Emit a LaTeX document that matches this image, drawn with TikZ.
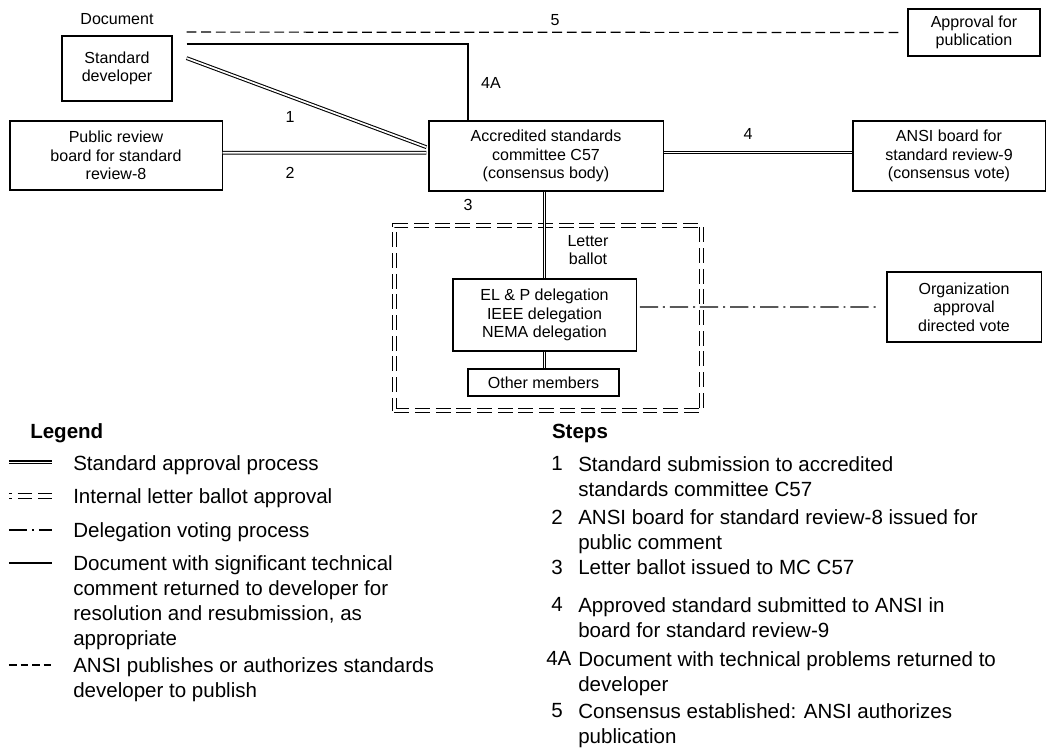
\documentclass[tikz,border=0pt]{standalone}
\usepackage{fontspec}
\setmainfont{Liberation Sans}
\usetikzlibrary{positioning}

\newcommand{\boxfont}{\fontsize{11.4}{13.2}\selectfont}
\newcommand{\legendfont}{\fontsize{14.6}{17.7}\selectfont}

\begin{document}
\begin{tikzpicture}[
    x=0.025cm, y=-0.025cm,
    box/.style={rectangle, draw, line width=0.75pt, align=center, font=\boxfont},
    approval/.style={double, line width=0.75pt, double distance=1.2pt},
    ballot/.style={draw, double, line width=0.7pt, double distance=2.4pt, dash pattern=on 10.5pt off 4.2pt},
    voting/.style={line width=0.85pt, dash pattern=on 13pt off 3.5pt on 1.4pt off 3.5pt},
    returned/.style={line width=0.85pt},
    publish/.style={line width=0.85pt, dash pattern=on 7pt off 3.4pt},
    tag/.style={font=\boxfont},
    legtext/.style={font=\legendfont, align=left, anchor=north west, inner sep=0pt},
    head/.style={font=\legendfont\bfseries, inner sep=0pt}
]
\useasboundingbox (0,0) rectangle (1048,753);

% Letter ballot frame
\node[ballot, inner sep=0pt, minimum width=7.675cm, minimum height=4.625cm] (frame) at (548,318) {};

% Boxes
\node[tag] (doclabel) at (117,19) {Document};
\node[box, minimum width=2.75cm, minimum height=1.625cm] (dev) at (117,68.5) {Standard\\developer};
\node[box, minimum width=5.3cm, minimum height=1.725cm] (review) at (116,155.5) {Public review\\board for standard\\review-8};
\node[box, minimum width=5.85cm, minimum height=1.75cm] (asc) at (546,156) {Accredited standards\\committee C57\\(consensus body)};
\node[box, minimum width=4.8cm, minimum height=1.75cm] (ansi) at (949,156) {ANSI board for\\standard review-9\\(consensus vote)};
\node[box, minimum width=3.3cm, minimum height=1.175cm] (pub) at (974,32.5) {Approval for\\publication};
\node[box, minimum width=4.575cm, minimum height=1.8cm] (deleg) at (544.5,315) {EL \& P delegation\\IEEE delegation\\NEMA delegation};
\node[box, minimum width=3.775cm, minimum height=0.675cm] (other) at (543.5,382.5) {Other members};
\node[box, minimum width=3.85cm, minimum height=1.75cm] (org) at (964,307) {Organization\\approval\\directed vote};
\node[tag, align=center] (letter) at (588,250) {Letter\\ballot};

% Connections
\draw[approval] ([xshift=0.35cm,yshift=0.26cm]dev.east) -- ([xshift=-0.05cm,yshift=0.22cm]asc.west);
\draw[approval] ([yshift=0.07cm]review.east) -- ([xshift=-0.05cm,yshift=0.08cm]asc.west);
\draw[approval] ([yshift=0.085cm]asc.east) -- ([yshift=0.085cm]ansi.west);
\draw[approval] (asc.south -| deleg.north) -- (deleg.north);
\draw[approval] (deleg.south) -- (deleg.south |- other.north);
\draw[returned] ([xshift=0.35cm,yshift=0.61cm]dev.east) -| ([xshift=-1.95cm]asc.north);
\draw[publish] ([xshift=0.35cm,yshift=0.91cm]dev.east) -- ([xshift=-0.2cm]pub.west);
\draw[voting] ([xshift=0.08cm,yshift=0.2cm]deleg.east) -- ([xshift=-0.22cm]org.west);

% Step numbers on the diagram
\node[tag] (n1) at (290,117) {1};
\node[tag] (n2) at (290,173) {2};
\node[tag] (n3) at (468,205) {3};
\node[tag] (n4) at (748,134) {4};
\node[tag] (n4a) at (491,83) {4A};
\node[tag] (n5) at (555,20) {5};

% Legend
\node[head, anchor=west] (legend) at (30,433) {Legend};
\node[legtext] (lg1) at (73,455.4) {Standard approval process};
\node[legtext] (lg2) at (73,488.4) {Internal letter ballot approval};
\node[legtext] (lg3) at (73,522.4) {Delegation voting process};
\node[legtext] (lg4) at (73,555.4) {Document with significant technical\\comment returned to developer for\\resolution and resubmission, as\\appropriate};
\node[legtext] (lg5) at (73,657.4) {ANSI publishes or authorizes standards\\developer to publish};

\draw[approval] ([xshift=-1.6cm,yshift=-0.175cm]lg1.north west) -- ++(1.075cm,0);
\draw[ballot, dash phase=8.5pt] ([xshift=-1.6cm,yshift=-0.19cm]lg2.north west) -- ++(1.075cm,0);
\draw[voting] ([xshift=-1.6cm,yshift=-0.19cm]lg3.north west) -- ++(1.075cm,0);
\draw[returned] ([xshift=-1.6cm,yshift=-0.19cm]lg4.north west) -- ++(1.075cm,0);
\draw[publish, dash pattern=on 5.6pt off 2.6pt] ([xshift=-1.6cm,yshift=-0.19cm]lg5.north west) -- ++(1.075cm,0);

% Steps
\node[head] (steps) at (580,433) {Steps};
\node[legtext] (s1) at (551,456.4) {1};
\node[legtext] (t1) at (578,456.4) {Standard submission to accredited\\standards committee C57};
\node[legtext] (s2) at (551,509.4) {2};
\node[legtext] (t2) at (578,509.4) {ANSI board for standard review-8 issued for\\public comment};
\node[legtext] (s3) at (551,559.4) {3};
\node[legtext] (t3) at (578,559.4) {Letter ballot issued to MC C57};
\node[legtext] (s4) at (551,597.4) {4};
\node[legtext] (t4) at (578,597.4) {Approved standard submitted to ANSI in\\board for standard review-9};
\node[legtext] (s4a) at (546,651.4) {4A};
\node[legtext] (t4a) at (578,651.4) {Document with technical problems returned to\\developer};
\node[legtext] (s5) at (551,703.4) {5};
\node[legtext] (t5) at (578,703.4) {Consensus established: ANSI authorizes\\publication};

\end{tikzpicture}
\end{document}
